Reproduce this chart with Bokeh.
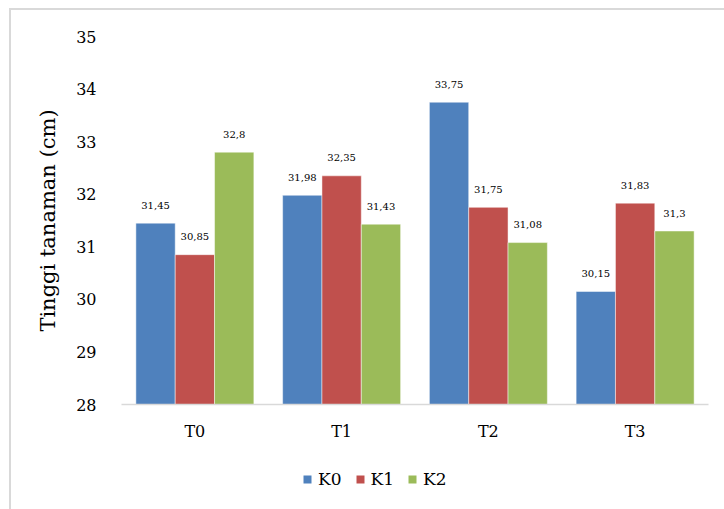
from bokeh.plotting import figure
from bokeh.layouts import column
from bokeh.models import ColumnDataSource, FactorRange, Legend, LegendItem, Range1d, FixedTicker
from bokeh.transform import dodge
from bokeh.core.properties import value
from bokeh.embed import file_html
from bokeh.resources import INLINE

categories = ["T0", "T1", "T2", "T3"]
series = ["K0", "K1", "K2"]
k0 = [31.45, 31.98, 33.75, 30.15]
k1 = [30.85, 32.35, 31.75, 31.83]
k2 = [32.8, 31.43, 31.08, 31.3]
colors = ["#4F81BD", "#C0504D", "#9BBB59"]
y_ticks = [28, 29, 30, 31, 32, 33, 34, 35]

FONT = "DejaVu Serif"

src = ColumnDataSource(data=dict(
    cat=categories, K0=k0, K1=k1, K2=k2,
    L0=[str(v).replace(".", ",") for v in k0],
    L1=[str(v).replace(".", ",") for v in k1],
    L2=[str(v).replace(".", ",") for v in k2],
))

p = figure(width=713, height=439, x_range=FactorRange(*categories, range_padding=0),
           y_range=Range1d(28, 35), output_backend="svg", toolbar_location=None,
           min_border_left=110, min_border_right=16, min_border_top=26, min_border_bottom=45)
p.outline_line_color = None
p.xgrid.grid_line_color = None
p.ygrid.grid_line_color = None

w = 0.268
offs = [-w, 0.0, w]
for i, s in enumerate(series):
    p.vbar(x=dodge("cat", offs[i], range=p.x_range), top=s, bottom=28, width=w,
           source=src, fill_color=colors[i], line_color="white", line_alpha=0.6, line_width=0.8)
    p.text(x=dodge("cat", offs[i], range=p.x_range), y=s, text="L%d" % i, source=src,
           text_align="center", text_baseline="middle", y_offset=-18,
           text_font=value(FONT), text_font_size="10px", text_color="#000000")

p.yaxis.ticker = FixedTicker(ticks=y_ticks)
p.yaxis.axis_line_color = None
p.yaxis.major_tick_line_color = None
p.yaxis.minor_tick_line_color = None
p.yaxis.major_label_text_font = FONT
p.yaxis.major_label_text_font_size = "16px"
p.yaxis.major_label_text_color = "#000000"
p.yaxis.major_label_standoff = 19
p.yaxis.axis_label = "Tinggi tanaman (cm)"
p.yaxis.axis_label_text_font = FONT
p.yaxis.axis_label_text_font_size = "21px"
p.yaxis.axis_label_text_font_style = "normal"
p.yaxis.axis_label_text_color = "#000000"
p.yaxis.axis_label_standoff = 13

p.xaxis.axis_line_color = "#d9d9d9"
p.xaxis.axis_line_width = 1.5
p.xaxis.major_tick_line_color = None
p.xaxis.minor_tick_line_color = None
p.xaxis.major_label_text_font = FONT
p.xaxis.major_label_text_font_size = "16px"
p.xaxis.major_label_text_color = "#000000"
p.xaxis.major_label_standoff = 11

# legend strip below the chart (its bars lie outside its visible range)
p2 = figure(width=713, height=60, x_range=FactorRange(*categories, range_padding=0),
            y_range=Range1d(100, 101), output_backend="svg", toolbar_location=None,
            min_border_left=0, min_border_right=0, min_border_top=0, min_border_bottom=0)
p2.axis.visible = False
p2.grid.grid_line_color = None
p2.outline_line_color = None
leg_r = [p2.vbar(x=dodge("cat", offs[i], range=p2.x_range), top=s, bottom=28, width=w,
                 source=src, fill_color=colors[i], line_color=None)
         for i, s in enumerate(series)]
legend = Legend(items=[LegendItem(label=s, renderers=[leg_r[i]]) for i, s in enumerate(series)],
                orientation="horizontal", location=(181, 20),
                label_text_font=FONT, label_text_font_size="17px", label_text_color="#000000",
                glyph_width=10, glyph_height=10, label_standoff=6, spacing=13,
                border_line_color=None, background_fill_alpha=0, margin=0, padding=0)
p2.add_layout(legend)

layout = column(p, p2, spacing=0,
                styles={"margin-left": "9px", "margin-top": "8px",
                        "border-left": "2px solid #d9d9d9", "border-top": "2px solid #d9d9d9"})

open("out.html", "w").write(file_html(layout, INLINE))
